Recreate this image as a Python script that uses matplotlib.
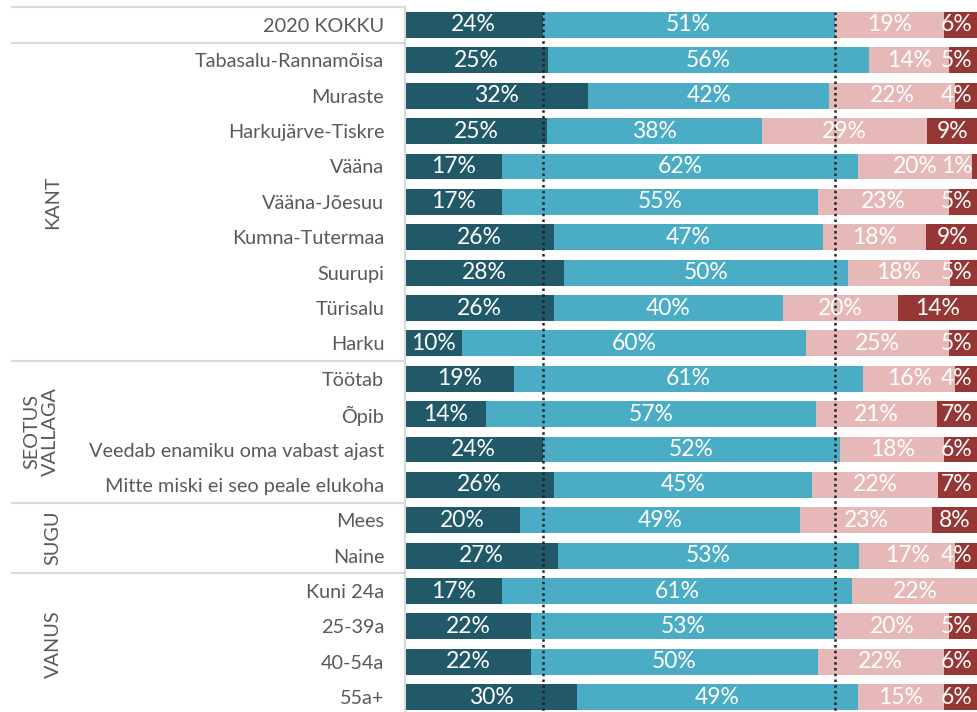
import matplotlib
matplotlib.use("Agg")
import matplotlib.pyplot as plt
import numpy as np

plt.rcParams['font.family'] = ['Lato', 'DejaVu Sans']

categories = ["2020 KOKKU", "Tabasalu-Rannamõisa", "Muraste", "Harkujärve-Tiskre", "Vääna",
              "Vääna-Jõesuu", "Kumna-Tutermaa", "Suurupi", "Türisalu", "Harku",
              "Töötab", "Õpib", "Veedab enamiku oma vabast ajast", "Mitte miski ei seo peale elukoha",
              "Mees", "Naine", "Kuni 24a", "25-39a", "40-54a", "55a+"]
seg1 = [24, 25, 32, 25, 17, 17, 26, 28, 26, 10, 19, 14, 24, 26, 20, 27, 17, 22, 22, 30]
seg2 = [51, 56, 42, 38, 62, 55, 47, 50, 40, 60, 61, 57, 52, 45, 49, 53, 61, 53, 50, 49]
seg3 = [19, 14, 22, 29, 20, 23, 18, 18, 20, 25, 16, 21, 18, 22, 23, 17, 22, 20, 22, 15]
seg4 = [6, 5, 4, 9, 1, 5, 9, 5, 14, 5, 4, 7, 6, 7, 8, 4, 0, 5, 6, 6]
groups = ["KANT", "SEOTUS\nVALLAGA", "SUGU", "VANUS"]
group_rows = [(1, 9), (10, 13), (14, 15), (16, 19)]
separators_after = [0, 9, 13, 15]

colors = ["#215968", "#4BACC6", "#E6B9B8", "#953735"]

W, H = 978, 712
fig = plt.figure(figsize=(W / 100, H / 100), dpi=100)
ax_left = 405 / W
ax_top = 1 - 7.3 / H
ax = fig.add_axes([ax_left, 0, 1 - ax_left, ax_top])

data = np.array([seg1, seg2, seg3, seg4], dtype=float)
tot = data.sum(axis=0)
norm = data / tot * 100
y = np.arange(len(categories))
left = np.zeros(len(categories))
bh = 0.73
for i in range(4):
    ax.barh(y, norm[i], left=left, height=bh, color=colors[i], edgecolor='none', zorder=2)
    for j in range(len(categories)):
        v = data[i, j]
        if v <= 0:
            continue
        cx = min(left[j] + norm[i, j] / 2, 96.3)
        ax.text(cx, y[j], f"{int(v)}%", ha='center', va='center', color='white',
                fontsize=16.5, zorder=4)
    left += norm[i]

ax.set_xlim(0, 100)
ax.set_ylim(19.42, -0.5)

# dotted reference lines from total row
b1 = norm[0, 0]
b2 = norm[0, 0] + norm[1, 0]
for xv in (b1, b2):
    ax.vlines(xv, -0.5 + (1 - bh) / 2, 19.42, colors='#222222', linestyles=(0, (1, 1.3)),
              linewidth=1.8, zorder=3)

ax.set_yticks(y)
ax.set_yticklabels(categories, fontsize=14.3, color='#595959')
ax.tick_params(axis='y', length=0, pad=15)
ax.set_xticks([])
for s in ['top', 'right', 'bottom']:
    ax.spines[s].set_visible(False)
ax.spines['left'].set_color('#D9D9D9')
ax.spines['left'].set_linewidth(1.5)

line_x0 = (12 - 405) / (W - 405)
line_x1 = 0
for r in separators_after:
    ax.plot([line_x0, line_x1], [r + 0.5, r + 0.5], color='#D9D9D9', lw=1.5,
            transform=ax.get_yaxis_transform(), clip_on=False)
ax.plot([line_x0, line_x1], [-0.5, -0.5], color='#D9D9D9', lw=1.5,
        transform=ax.get_yaxis_transform(), clip_on=False)

gx = (41 - 405) / (W - 405)
for g, (a, b) in zip(groups, group_rows):
    xpos = gx if "\n" in g else (53 - 405) / (W - 405)
    ax.text(xpos, (a + b) / 2, g, rotation=90, ha='center', va='center', fontsize=14.3,
            color='#595959', transform=ax.get_yaxis_transform(), linespacing=1.1)

fig.savefig("out.png", dpi=100)
